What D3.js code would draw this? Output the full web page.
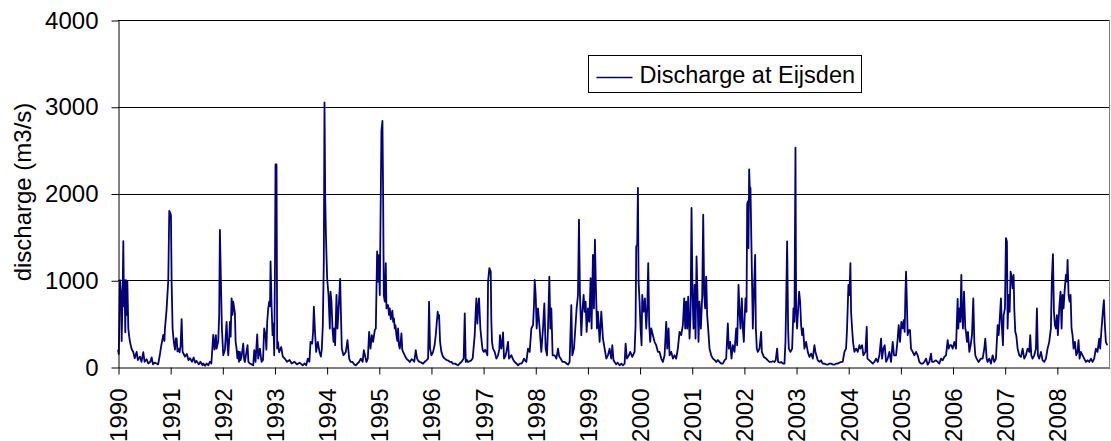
<!DOCTYPE html>
<html lang="en">
<head>
<meta charset="UTF-8">
<title>Discharge at Eijsden</title>
<script src="https://cdn.jsdelivr.net/npm/d3@7"></script>
<style>
  body { margin: 0; background: #fff; }
  svg text { font-family: Arial, "Liberation Sans", sans-serif; fill: #000; }
</style>
</head>
<body>
<script>
// tick labels
const yearTicks = d3.range(1990, 2009);
const valueTicks = [0, 1000, 2000, 3000, 4000];
const seriesName = "Discharge at Eijsden";
const axisTitle = "discharge (m3/s)";

// [decimal year, discharge m3/s]
const discharge = [
  [1990.000,200],[1990.015,150],[1990.038,1000],[1990.060,830],[1990.070,300],[1990.090,900],[1990.102,1450],[1990.115,700],
  [1990.125,1000],[1990.140,400],[1990.153,1000],[1990.170,600],[1990.179,990],[1990.198,440],[1990.215,350],[1990.230,290],
  [1990.260,210],[1990.294,170],[1990.320,100],[1990.358,175],[1990.380,80],[1990.421,120],[1990.450,60],[1990.485,170],
  [1990.510,60],[1990.549,90],[1990.580,40],[1990.620,60],[1990.645,110],[1990.670,30],[1990.700,50],[1990.741,40],
  [1990.770,30],[1990.805,150],[1990.830,250],[1990.868,370],[1990.890,300],[1990.900,440],[1990.930,650],[1990.964,1000],
  [1990.983,1800],[1991.000,1780],[1991.015,1750],[1991.028,980],[1991.047,440],[1991.070,290],[1991.092,200],[1991.110,330],
  [1991.124,330],[1991.140,180],[1991.156,212],[1991.180,170],[1991.200,240],[1991.220,552],[1991.239,174],[1991.260,150],
  [1991.284,120],[1991.320,150],[1991.350,80],[1991.379,100],[1991.420,60],[1991.450,110],[1991.480,50],[1991.507,70],
  [1991.550,30],[1991.580,60],[1991.620,20],[1991.635,40],[1991.670,15],[1991.700,40],[1991.730,20],[1991.762,60],
  [1991.790,40],[1991.826,370],[1991.850,200],[1991.877,367],[1991.890,212],[1991.922,300],[1991.940,600],[1991.954,1580],
  [1991.973,980],[1991.992,444],[1992.018,135],[1992.050,200],[1992.082,521],[1992.100,250],[1992.114,135],[1992.130,300],
  [1992.146,521],[1992.160,350],[1992.178,791],[1992.195,600],[1992.209,753],[1992.241,620],[1992.255,290],[1992.273,212],
  [1992.290,100],[1992.305,180],[1992.320,60],[1992.337,174],[1992.350,80],[1992.369,120],[1992.401,270],[1992.420,80],
  [1992.433,58],[1992.484,251],[1992.500,60],[1992.529,40],[1992.560,30],[1992.593,20],[1992.612,193],[1992.637,58],
  [1992.669,375],[1992.688,97],[1992.720,212],[1992.752,58],[1992.780,80],[1992.803,444],[1992.829,367],[1992.845,200],
  [1992.861,521],[1992.880,675],[1992.899,753],[1992.915,700],[1992.925,1216],[1992.944,714],[1992.963,367],[1992.980,500],
  [1992.995,135],[1993.010,1200],[1993.020,2335],[1993.039,2335],[1993.052,212],[1993.065,290],[1993.090,170],[1993.129,230],
  [1993.160,120],[1993.193,100],[1993.240,60],[1993.289,80],[1993.330,40],[1993.384,60],[1993.430,30],[1993.480,50],
  [1993.544,20],[1993.580,40],[1993.608,20],[1993.640,97],[1993.670,60],[1993.691,290],[1993.723,270],[1993.740,400],
  [1993.755,695],[1993.774,444],[1993.799,174],[1993.831,290],[1993.863,174],[1993.890,120],[1993.908,212],[1993.927,482],
  [1993.946,1216],[1993.959,3050],[1993.972,1990],[1993.985,1563],[1993.997,1290],[1994.010,1023],[1994.036,830],[1994.061,444],
  [1994.074,870],[1994.093,753],[1994.112,444],[1994.132,290],[1994.144,444],[1994.163,251],[1994.189,830],[1994.208,444],
  [1994.227,637],[1994.259,1015],[1994.272,675],[1994.291,212],[1994.323,135],[1994.368,174],[1994.400,309],[1994.432,97],
  [1994.460,60],[1994.496,58],[1994.530,30],[1994.559,19],[1994.590,40],[1994.623,58],[1994.655,97],[1994.690,60],
  [1994.713,193],[1994.764,58],[1994.790,100],[1994.815,405],[1994.841,212],[1994.866,367],[1994.891,290],[1994.923,425],
  [1994.943,444],[1994.968,1332],[1994.981,984],[1995.000,1290],[1995.019,830],[1995.038,1988],[1995.051,2721],[1995.070,2837],
  [1995.083,1988],[1995.096,830],[1995.115,753],[1995.134,1197],[1995.147,675],[1995.165,714],[1995.179,714],[1995.195,600],
  [1995.211,675],[1995.230,550],[1995.243,598],[1995.260,650],[1995.275,521],[1995.290,560],[1995.307,444],[1995.320,480],
  [1995.338,367],[1995.355,300],[1995.370,444],[1995.386,250],[1995.402,212],[1995.420,290],[1995.434,386],[1995.450,200],
  [1995.466,174],[1995.500,130],[1995.530,97],[1995.560,80],[1995.594,58],[1995.630,90],[1995.658,77],[1995.680,60],
  [1995.709,193],[1995.734,97],[1995.760,70],[1995.785,58],[1995.820,50],[1995.849,39],[1995.880,60],[1995.913,77],
  [1995.945,97],[1995.964,753],[1995.983,212],[1996.009,135],[1996.041,174],[1996.070,250],[1996.092,367],[1996.110,500],
  [1996.130,637],[1996.145,560],[1996.156,598],[1996.175,290],[1996.200,174],[1996.230,120],[1996.264,97],[1996.300,80],
  [1996.328,77],[1996.360,60],[1996.392,58],[1996.420,40],[1996.456,39],[1996.490,30],[1996.520,19],[1996.550,40],
  [1996.584,58],[1996.628,97],[1996.648,618],[1996.667,58],[1996.690,80],[1996.711,58],[1996.775,77],[1996.800,100],
  [1996.839,367],[1996.855,600],[1996.871,791],[1996.890,500],[1996.903,675],[1996.922,791],[1996.948,444],[1996.973,290],
  [1996.990,200],[1997.011,174],[1997.040,200],[1997.082,135],[1997.095,984],[1997.120,1139],[1997.146,1100],[1997.158,521],
  [1997.171,290],[1997.190,212],[1997.222,174],[1997.254,97],[1997.286,135],[1997.310,200],[1997.324,367],[1997.350,212],
  [1997.370,300],[1997.382,398],[1997.401,97],[1997.430,130],[1997.446,174],[1997.478,290],[1997.497,97],[1997.542,135],
  [1997.580,80],[1997.606,58],[1997.640,40],[1997.669,19],[1997.700,40],[1997.733,39],[1997.760,60],[1997.784,97],
  [1997.810,70],[1997.829,58],[1997.861,212],[1997.893,174],[1997.925,444],[1997.957,482],[1997.975,700],[1997.989,1004],
  [1998.008,830],[1998.027,444],[1998.052,675],[1998.084,444],[1998.116,174],[1998.148,444],[1998.174,733],[1998.199,212],
  [1998.225,135],[1998.244,444],[1998.270,1042],[1998.289,444],[1998.308,675],[1998.333,135],[1998.372,135],[1998.404,97],
  [1998.436,212],[1998.460,120],[1998.487,97],[1998.520,60],[1998.563,58],[1998.600,40],[1998.627,27],[1998.659,58],
  [1998.691,714],[1998.710,135],[1998.742,212],[1998.768,444],[1998.793,675],[1998.819,830],[1998.838,1698],[1998.857,830],
  [1998.883,367],[1998.902,637],[1998.927,830],[1998.946,637],[1998.966,753],[1998.985,405],[1999.010,675],[1999.036,521],
  [1999.061,1023],[1999.080,444],[1999.106,1293],[1999.125,675],[1999.144,1467],[1999.163,907],[1999.183,444],[1999.202,637],
  [1999.234,290],[1999.266,637],[1999.298,328],[1999.330,212],[1999.362,97],[1999.393,135],[1999.425,212],[1999.457,97],
  [1999.477,251],[1999.500,80],[1999.521,58],[1999.550,30],[1999.580,50],[1999.617,20],[1999.650,40],[1999.680,19],
  [1999.713,39],[1999.732,270],[1999.757,97],[1999.796,135],[1999.821,174],[1999.860,116],[1999.904,174],[1999.923,482],
  [1999.936,1390],[1999.955,1410],[1999.968,2065],[1999.981,984],[2000.000,753],[2000.019,444],[2000.038,251],[2000.051,830],
  [2000.077,637],[2000.102,791],[2000.128,444],[2000.147,675],[2000.166,1197],[2000.185,482],[2000.204,290],[2000.224,444],
  [2000.255,367],[2000.287,290],[2000.319,251],[2000.351,174],[2000.383,174],[2000.415,97],[2000.447,58],[2000.479,135],
  [2000.511,521],[2000.530,212],[2000.556,444],[2000.575,135],[2000.607,174],[2000.639,97],[2000.670,135],[2000.702,97],
  [2000.734,212],[2000.766,405],[2000.798,367],[2000.830,482],[2000.856,791],[2000.875,444],[2000.894,753],[2000.913,444],
  [2000.932,810],[2000.958,328],[2000.977,598],[2000.996,1834],[2001.015,830],[2001.034,444],[2001.054,945],[2001.073,328],
  [2001.092,1274],[2001.111,830],[2001.130,290],[2001.149,753],[2001.175,444],[2001.201,830],[2001.220,1756],[2001.239,830],
  [2001.258,675],[2001.277,1042],[2001.296,598],[2001.315,444],[2001.341,212],[2001.373,135],[2001.405,97],[2001.440,80],
  [2001.469,58],[2001.500,80],[2001.533,58],[2001.565,40],[2001.596,39],[2001.628,77],[2001.660,97],[2001.692,502],
  [2001.711,212],[2001.737,290],[2001.762,97],[2001.788,251],[2001.820,174],[2001.852,444],[2001.871,251],[2001.897,945],
  [2001.916,637],[2001.935,444],[2001.960,791],[2001.980,444],[2001.999,290],[2002.011,521],[2002.031,791],[2002.050,637],
  [2002.063,1872],[2002.075,1910],[2002.088,1370],[2002.101,2277],[2002.114,2030],[2002.126,2065],[2002.139,1600],[2002.152,1139],
  [2002.171,444],[2002.190,830],[2002.216,1293],[2002.229,444],[2002.248,212],[2002.267,174],[2002.299,212],[2002.331,405],
  [2002.344,174],[2002.382,116],[2002.427,97],[2002.459,77],[2002.490,60],[2002.522,58],[2002.554,66],[2002.586,58],
  [2002.610,80],[2002.637,212],[2002.656,58],[2002.690,50],[2002.714,58],[2002.750,40],[2002.778,39],[2002.797,290],
  [2002.810,714],[2002.829,1448],[2002.848,444],[2002.861,212],[2002.893,174],[2002.925,212],[2002.950,675],[2002.969,521],
  [2002.989,2528],[2003.001,675],[2003.020,444],[2003.040,675],[2003.059,869],[2003.078,753],[2003.097,482],[2003.116,367],
  [2003.135,444],[2003.161,212],[2003.193,290],[2003.225,174],[2003.257,116],[2003.289,154],[2003.321,97],[2003.352,251],
  [2003.372,174],[2003.416,77],[2003.450,60],[2003.480,77],[2003.510,40],[2003.544,39],[2003.576,30],[2003.608,27],
  [2003.640,40],[2003.672,39],[2003.700,30],[2003.736,27],[2003.770,40],[2003.799,39],[2003.830,50],[2003.863,58],
  [2003.895,58],[2003.927,174],[2003.959,212],[2003.978,444],[2004.004,945],[2004.023,830],[2004.042,1197],[2004.055,637],
  [2004.074,444],[2004.093,290],[2004.119,174],[2004.151,212],[2004.183,174],[2004.215,251],[2004.234,212],[2004.266,251],
  [2004.291,135],[2004.330,174],[2004.355,463],[2004.368,97],[2004.406,77],[2004.438,58],[2004.470,39],[2004.502,58],
  [2004.534,97],[2004.566,58],[2004.598,135],[2004.630,328],[2004.649,97],[2004.674,212],[2004.700,251],[2004.726,58],
  [2004.757,97],[2004.789,174],[2004.821,58],[2004.853,290],[2004.879,135],[2004.917,135],[2004.949,328],[2004.968,482],
  [2004.994,290],[2005.019,521],[2005.045,444],[2005.064,540],[2005.083,405],[2005.096,830],[2005.109,1100],[2005.121,830],
  [2005.140,367],[2005.160,425],[2005.185,425],[2005.204,212],[2005.236,174],[2005.268,135],[2005.300,174],[2005.332,135],
  [2005.364,58],[2005.396,39],[2005.428,39],[2005.460,58],[2005.492,97],[2005.523,27],[2005.555,58],[2005.587,154],
  [2005.607,58],[2005.632,58],[2005.683,77],[2005.715,58],[2005.747,39],[2005.779,97],[2005.811,77],[2005.843,116],
  [2005.875,135],[2005.907,309],[2005.926,212],[2005.951,251],[2005.977,251],[2006.003,212],[2006.034,290],[2006.066,212],
  [2006.098,784],[2006.111,444],[2006.130,675],[2006.149,521],[2006.169,1062],[2006.181,637],[2006.200,444],[2006.220,869],
  [2006.232,675],[2006.245,444],[2006.258,405],[2006.277,290],[2006.296,405],[2006.322,174],[2006.347,251],[2006.373,367],
  [2006.398,791],[2006.418,290],[2006.437,135],[2006.462,97],[2006.500,58],[2006.545,97],[2006.577,97],[2006.609,212],
  [2006.628,328],[2006.654,97],[2006.673,58],[2006.705,97],[2006.737,39],[2006.769,135],[2006.801,58],[2006.833,97],
  [2006.865,482],[2006.884,367],[2006.903,521],[2006.928,791],[2006.948,444],[2006.967,251],[2006.980,598],[2007.005,675],
  [2007.024,1486],[2007.043,1448],[2007.056,444],[2007.075,830],[2007.095,637],[2007.114,1100],[2007.133,1042],[2007.152,907],
  [2007.171,1062],[2007.184,675],[2007.203,405],[2007.222,367],[2007.248,212],[2007.280,135],[2007.312,116],[2007.344,212],
  [2007.375,97],[2007.407,135],[2007.439,212],[2007.471,174],[2007.490,367],[2007.510,135],[2007.535,97],[2007.567,135],
  [2007.599,212],[2007.618,675],[2007.637,135],[2007.663,97],[2007.695,174],[2007.727,77],[2007.759,58],[2007.791,97],
  [2007.822,212],[2007.854,290],[2007.886,444],[2007.905,1023],[2007.925,1301],[2007.944,637],[2007.963,482],[2007.982,444],
  [2008.001,598],[2008.020,367],[2008.046,675],[2008.071,869],[2008.091,444],[2008.110,830],[2008.129,675],[2008.148,869],
  [2008.174,1062],[2008.193,984],[2008.206,1235],[2008.225,830],[2008.244,753],[2008.263,830],[2008.282,444],[2008.301,367],
  [2008.321,212],[2008.346,290],[2008.372,135],[2008.397,174],[2008.416,309],[2008.436,97],[2008.461,174],[2008.493,135],
  [2008.525,97],[2008.557,58],[2008.589,77],[2008.621,58],[2008.653,97],[2008.685,58],[2008.716,97],[2008.748,212],
  [2008.780,174],[2008.812,328],[2008.831,212],[2008.857,444],[2008.882,637],[2008.902,772],[2008.921,482],[2008.940,290],
  [2008.966,251]
];

const W = 1111, H = 441;
const fontSize = 24;

const svg = d3.select("body").append("svg")
  .attr("width", W)
  .attr("height", H);

const x = d3.scaleLinear().domain([1990, 2009]).range([118, 1109]);
const y = d3.scaleLinear().domain([0, 4000]).range([367, 20]);
const crisp = v => Math.round(v) + 0.5;

// horizontal gridlines
svg.append("g")
  .selectAll("line")
  .data(valueTicks.filter(d => d > 0))
  .enter().append("line")
  .attr("x1", x.range()[0]).attr("x2", x.range()[1])
  .attr("y1", d => crisp(y(d))).attr("y2", d => crisp(y(d)))
  .attr("stroke", "#000")
  .attr("stroke-width", 1);

// right edge of plot area
svg.append("line")
  .attr("x1", crisp(x.range()[1])).attr("x2", crisp(x.range()[1]))
  .attr("y1", y(4000)).attr("y2", y(0))
  .attr("stroke", "#808080");

// series
const line = d3.line()
  .x(d => x(d[0]))
  .y(d => y(d[1]));

svg.append("path")
  .datum(discharge)
  .attr("fill", "none")
  .attr("stroke", "#000080")
  .attr("stroke-width", 1.8)
  .attr("stroke-linejoin", "round")
  .attr("d", line);

// y axis
const yAxis = svg.append("g")
  .attr("transform", `translate(${crisp(x.range()[0])},0.5)`)
  .call(d3.axisLeft(y).tickValues(valueTicks).tickFormat(d3.format("d"))
    .tickSize(7).tickSizeOuter(0).tickPadding(13));
yAxis.attr("font-family", null).attr("font-size", null);
yAxis.selectAll("text").style("font-size", fontSize + "px");

// x axis
const xAxis = svg.append("g")
  .attr("transform", `translate(0.5,${crisp(y(0))})`)
  .call(d3.axisBottom(x).tickValues(yearTicks).tickFormat(d3.format("d")).tickSize(7).tickSizeOuter(0));
xAxis.attr("font-family", null).attr("font-size", null);
xAxis.selectAll("text")
  .style("font-size", fontSize + "px")
  .attr("transform", "rotate(-90)")
  .attr("x", -21)
  .attr("y", 0)
  .attr("dy", "0.35em")
  .style("text-anchor", "end");

// axis title
svg.append("text")
  .attr("transform", "translate(31,192) rotate(-90)")
  .attr("text-anchor", "middle")
  .style("font-size", fontSize + "px")
  .text(axisTitle);

// legend
const legend = svg.append("g").attr("transform", "translate(588.5,55.5)");
legend.append("rect")
  .attr("width", 273).attr("height", 37)
  .attr("fill", "#fff")
  .attr("stroke", "#000")
  .attr("stroke-width", 1);
legend.append("line")
  .attr("x1", 8).attr("x2", 44)
  .attr("y1", 22).attr("y2", 22)
  .attr("stroke", "#000080")
  .attr("stroke-width", 1.6);
legend.append("text")
  .attr("x", 51).attr("y", 27.5)
  .style("font-size", "23.5px")
  .text(seriesName);
</script>
</body>
</html>
